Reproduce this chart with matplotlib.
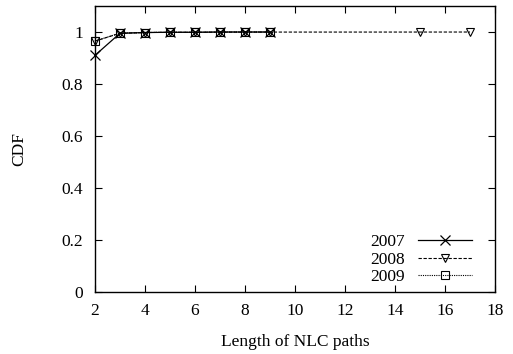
import numpy as np
import matplotlib
matplotlib.use("Agg")
import matplotlib.pyplot as plt

plt.rcParams["font.family"] = ["Liberation Serif", "DejaVu Serif"]
plt.rcParams["font.size"] = 12.5

# data
x_2007 = [2, 3, 4, 5, 6, 7, 8, 9]
cdf_2007 = [0.91, 0.995, 0.998, 0.999, 0.999, 1.0, 1.0, 1.0]

x_2008 = [2, 3, 4, 5, 6, 7, 8, 9, 15, 17]
cdf_2008 = [0.965, 0.995, 0.998, 0.999, 0.999, 0.9995, 0.9997, 0.9998, 0.9999, 1.0]

x_2009 = [2, 3, 4, 5, 6, 7, 8, 9]
cdf_2009 = [0.965, 0.996, 0.998, 0.999, 0.999, 1.0, 1.0, 1.0]

fig = plt.figure(figsize=(5.13, 3.54), dpi=100)
ax = fig.add_axes([0.185, 0.175, 0.780, 0.808])

ax.plot(x_2007, cdf_2007, color="black", linestyle="-", linewidth=0.9,
        marker="x", markersize=6.5, markeredgewidth=0.9, label="2007", clip_on=False)
ax.plot(x_2008, cdf_2008, color="black", linestyle=(0, (3, 1.5)), linewidth=0.8,
        marker="v", markersize=5.5, markerfacecolor="none", markeredgewidth=0.8,
        label="2008", clip_on=False)
ax.plot(x_2009, cdf_2009, color="black", linestyle=(0, (1, 1)), linewidth=0.8,
        marker="s", markersize=6, markerfacecolor="none", markeredgewidth=0.8,
        label="2009", clip_on=False)

ax.set_xlim(2, 18)
ax.set_ylim(0, 1.1)
ax.set_xticks(np.arange(2, 19, 2))
ax.set_yticks([0, 0.2, 0.4, 0.6, 0.8, 1.0])
ax.set_yticklabels(["0", "0.2", "0.4", "0.6", "0.8", "1"])
ax.tick_params(direction="in", top=True, right=True, length=5, width=0.8)
ax.tick_params(axis="y", pad=8.5)
ax.tick_params(axis="x", pad=8)
for s in ax.spines.values():
    s.set_linewidth(1.0)

ax.set_xlabel("Length of NLC paths", labelpad=11)
ax.set_ylabel("CDF", labelpad=25)

leg = ax.legend(loc="lower right", frameon=False, markerfirst=False,
                handlelength=3.1, handletextpad=0.75, labelspacing=0.07,
                borderaxespad=0.0, bbox_to_anchor=(0.96, 0.0))

fig.savefig("out.png", dpi=100)
